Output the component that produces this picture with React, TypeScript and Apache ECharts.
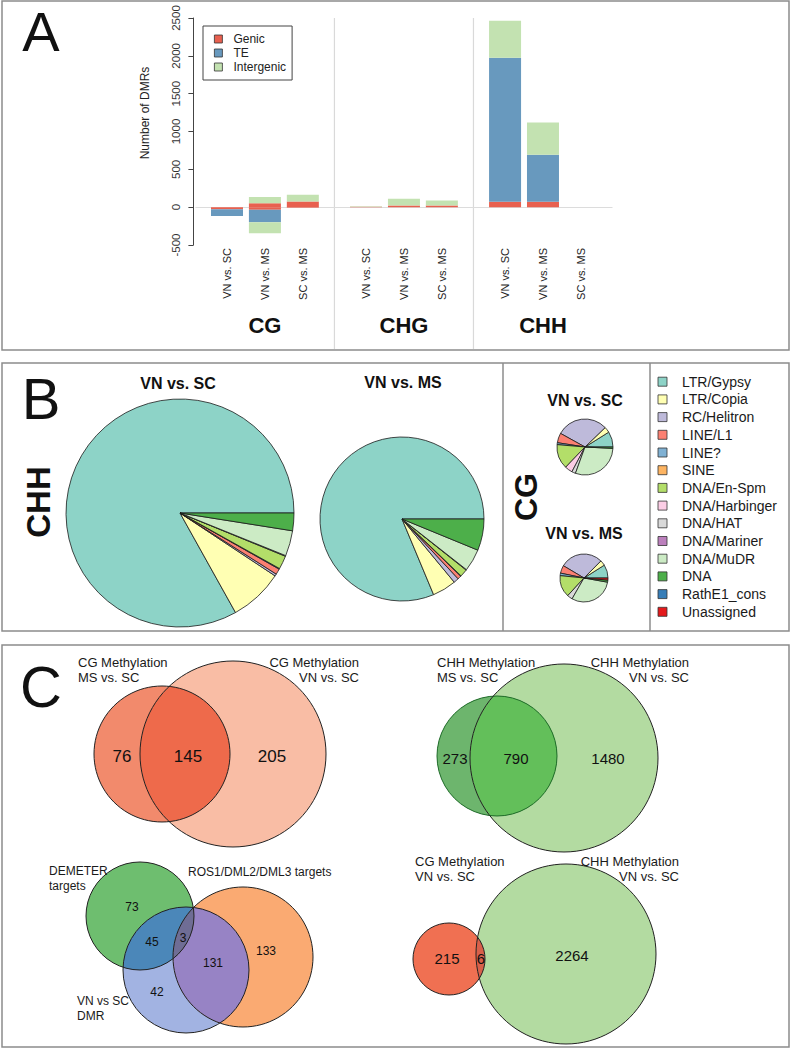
import React, { useEffect, useRef } from 'react';
import * as echarts from 'echarts';

const FONT = '"Liberation Sans", Arial, Helvetica, sans-serif';

// ---------------- Panel A data ----------------
const CONTEXTS = ['CG', 'CHG', 'CHH'];
const COMPARISONS = ['VN vs. SC', 'VN vs. MS', 'SC vs. MS'];
const FEATURES = ['Genic', 'TE', 'Intergenic'];
const FEATURE_COLORS = ['#E8604F', '#6899BE', '#C3E2B1'];
// order: CG (VN vs SC, VN vs MS, SC vs MS), CHG (...), CHH (...)
const GENIC_HYPER = [0, 53, 74, 5, 22, 22, 70, 70, 0];
const TE_HYPER = [0, 0, 0, 0, 0, 0, 1905, 622, 0];
const INTERGENIC_HYPER = [0, 83, 89, 8, 88, 66, 490, 428, 0];
const GENIC_HYPO = [-26, -35, -8, 0, 0, 0, 0, 0, 0];
const TE_HYPO = [-90, -163, 0, 0, 0, 0, 0, 0, 0];
const INTERGENIC_HYPO = [0, -146, 0, 0, 0, 0, 0, 0, 0];
const Y_MIN = -500;
const Y_MAX = 2500;
const Y_STEP = 500;

// ---------------- Panel B data ----------------
const TE_CLASSES = ['LTR/Gypsy', 'LTR/Copia', 'RC/Helitron', 'LINE/L1', 'LINE?', 'SINE', 'DNA/En-Spm', 'DNA/Harbinger', 'DNA/HAT', 'DNA/Mariner', 'DNA/MuDR', 'DNA', 'RathE1_cons', 'Unassigned'];
const TE_COLORS = ['#8DD3C7', '#FFFFB3', '#BEBADA', '#FB8072', '#80B1D3', '#FDB462', '#B3DE69', '#FCCDE5', '#D9D9D9', '#BC80BD', '#CCEBC5', '#4DAF4A', '#377EB8', '#E41A1C'];
const CHH_VN_SC = [83.1, 7.6, 0.3, 0.8, 0.1, 0, 1.9, 0, 0.1, 0, 3.6, 2.5, 0, 0];
const CHH_VN_MS = [81.3, 4.7, 1.0, 0.7, 0.1, 0, 1.5, 0, 0.1, 0, 4.4, 6.2, 0, 0];
const CG_VN_SC = [8.9, 3.3, 29.7, 5.6, 1.1, 0, 14.2, 4.4, 2.2, 0, 29.7, 0.8, 0, 0];
const CG_VN_MS = [9.0, 3.6, 28.9, 5.3, 1.7, 0, 14.7, 0, 3.6, 0, 30.5, 1.4, 0, 1.4];

// ---------------- Panel C data ----------------
const CG_VENN_COUNTS = [76, 145, 205];          // MS only, both, VN only
const CHH_VENN_COUNTS = [273, 790, 1480];       // MS only, both, VN only
const CG_CHH_COUNTS = [215, 6, 2264];           // CG only, both, CHH only
const DEMETER_COUNTS = [73, 45, 3, 131, 133, 42]; // DME only, DME∩DMR, all, DMR∩ROS, ROS only, DMR only

// ---------------- layout ----------------
const GRID_LEFT = 195.4;
const GRID_TOP = 18;
const GRID_W = 417.1;
const GRID_H = 227;
const SLOT_LEAD = 2;
const SLOT_STEP = 3;
const GROUP_SPAN = 11;
const SLOT_COUNT = 33;
const SLOT_W = GRID_W / SLOT_COUNT;
const barSlot = (g: number, m: number) => SLOT_LEAD + g * GROUP_SPAN + m * SLOT_STEP;

const toSlots = (vals: number[]) => {
  const arr: any[] = new Array(SLOT_COUNT).fill('-');
  vals.forEach((v, i) => { arr[barSlot(Math.floor(i / 3), i % 3)] = v; });
  return arr;
};
const slotLabels: string[] = new Array(SLOT_COUNT).fill('');
CONTEXTS.forEach((_, g) => COMPARISONS.forEach((c, m) => { slotLabels[barSlot(g, m)] = c; }));

type Circle = { cx: number; cy: number; r: number; fill: string; stroke: string };

function intersectionPolygon(cs: Circle[], n = 720): number[][] {
  const pts: number[][] = [];
  cs.forEach((c, i) => {
    for (let k = 0; k < n; k++) {
      const a = (k / n) * Math.PI * 2;
      const x = c.cx + c.r * Math.cos(a);
      const y = c.cy + c.r * Math.sin(a);
      const ok = cs.every((o, j) => j === i || (x - o.cx) ** 2 + (y - o.cy) ** 2 <= o.r * o.r + 1e-6);
      if (ok) pts.push([x, y]);
    }
  });
  if (pts.length < 3) return [];
  let mx = 0, my = 0;
  pts.forEach((p) => { mx += p[0]; my += p[1]; });
  mx /= pts.length; my /= pts.length;
  pts.sort((p, q) => Math.atan2(p[1] - my, p[0] - mx) - Math.atan2(q[1] - my, q[0] - mx));
  return pts;
}

type Venn = {
  circles: Circle[];
  overlaps: { sets: number[]; fill: string }[];
  counts: number[];
  countPos: number[][];
  countSize: number;
  labels: { text: string; x: number; y: number; align: string }[];
  labelSize: number;
};

const VENNS: Venn[] = [
  {
    circles: [
      { cx: 162, cy: 754, r: 68, fill: '#F28A6C', stroke: '#222' },
      { cx: 233, cy: 754, r: 93, fill: '#F9BDA5', stroke: '#222' },
    ],
    overlaps: [{ sets: [0, 1], fill: '#EE6A4B' }],
    counts: CG_VENN_COUNTS,
    countPos: [[122, 756], [188, 756], [272, 756]],
    countSize: 17,
    labels: [
      { text: 'CG Methylation\nMS vs. SC', x: 78, y: 670, align: 'left' },
      { text: 'CG Methylation\nVN vs. SC', x: 359, y: 670, align: 'right' },
    ],
    labelSize: 13,
  },
  {
    circles: [
      { cx: 497, cy: 756, r: 60, fill: '#6DB56D', stroke: '#1E6B28' },
      { cx: 564, cy: 758, r: 94, fill: '#B3DBA1', stroke: '#222' },
    ],
    overlaps: [{ sets: [0, 1], fill: '#63BF5A' }],
    counts: CHH_VENN_COUNTS,
    countPos: [[455, 758], [516, 758], [608, 758]],
    countSize: 15,
    labels: [
      { text: 'CHH Methylation\nMS vs. SC', x: 437, y: 670, align: 'left' },
      { text: 'CHH Methylation\nVN vs. SC', x: 689, y: 670, align: 'right' },
    ],
    labelSize: 13,
  },
  {
    circles: [
      { cx: 140, cy: 916, r: 54, fill: '#6EBE6F', stroke: '#222' },
      { cx: 186, cy: 970, r: 63, fill: '#A2B3E2', stroke: '#222' },
      { cx: 243, cy: 957, r: 70, fill: '#FAAA72', stroke: '#222' },
    ],
    overlaps: [
      { sets: [0, 1], fill: '#4B87B9' },
      { sets: [1, 2], fill: '#9783C5' },
      { sets: [0, 2], fill: '#8A8D70' },
      { sets: [0, 1, 2], fill: '#6F6D95' },
    ],
    counts: DEMETER_COUNTS,
    countPos: [[132, 907], [152, 942], [183, 938], [213, 963], [266, 951], [157, 992]],
    countSize: 12,
    labels: [
      { text: 'DEMETER\ntargets', x: 49, y: 878.5, align: 'left' },
      { text: 'ROS1/DML2/DML3 targets', x: 188, y: 872, align: 'left' },
      { text: 'VN vs SC\nDMR', x: 77, y: 1008.5, align: 'left' },
    ],
    labelSize: 12,
  },
  {
    circles: [
      { cx: 449, cy: 959, r: 36, fill: '#F07052', stroke: '#222' },
      { cx: 566, cy: 954, r: 90, fill: '#B3DBA1', stroke: '#222' },
    ],
    overlaps: [{ sets: [0, 1], fill: '#D8604A' }],
    counts: CG_CHH_COUNTS,
    countPos: [[447, 958], [481, 958], [572, 955]],
    countSize: 15,
    labels: [
      { text: 'CG Methylation\nVN vs. SC', x: 415, y: 869, align: 'left' },
      { text: 'CHH Methylation\nVN vs. SC', x: 679, y: 869, align: 'right' },
    ],
    labelSize: 13,
  },
];

function vennGraphics(v: Venn): any[] {
  const out: any[] = [];
  v.circles.forEach((c) => out.push({ type: 'circle', shape: { cx: c.cx, cy: c.cy, r: c.r }, style: { fill: c.fill, stroke: 'none' }, silent: true }));
  v.overlaps.forEach((o) => {
    const pts = intersectionPolygon(o.sets.map((i) => v.circles[i]));
    if (pts.length) out.push({ type: 'polygon', shape: { points: pts }, style: { fill: o.fill, stroke: 'none' }, silent: true });
  });
  v.circles.forEach((c) => out.push({ type: 'circle', shape: { cx: c.cx, cy: c.cy, r: c.r }, style: { fill: 'none', stroke: c.stroke, lineWidth: 1 }, silent: true }));
  v.counts.forEach((n, i) => out.push({
    type: 'text', x: v.countPos[i][0], y: v.countPos[i][1], silent: true,
    style: { text: String(n), fontSize: v.countSize, fontFamily: FONT, fill: '#111', align: 'center', verticalAlign: 'middle' },
  }));
  v.labels.forEach((l) => out.push({
    type: 'text', x: l.x, y: l.y, silent: true,
    style: { text: l.text, fontSize: v.labelSize, fontFamily: FONT, fill: '#1a1a1a', align: l.align, verticalAlign: 'middle', lineHeight: 14.5 },
  }));
  return out;
}

function pieData(vals: number[]) {
  return TE_CLASSES.map((name, i) => ({ name, value: vals[i], itemStyle: { color: TE_COLORS[i] } })).filter((d) => d.value > 0);
}

function pieSeries(vals: number[], center: number[], radius: number) {
  return {
    type: 'pie', center, radius, startAngle: 0, clockwise: false, silent: true,
    avoidLabelOverlap: false, label: { show: false }, labelLine: { show: false },
    itemStyle: { borderColor: '#1a1a1a', borderWidth: 0.8 },
    emphasis: { disabled: true },
    data: pieData(vals),
  };
}

const txt = (text: string, x: number, y: number, size: number, extra: any = {}, rot = 0) => ({
  type: 'text', x, y, rotation: rot, silent: true,
  style: { text, fontSize: size, fontFamily: FONT, fill: '#111', align: 'center', verticalAlign: 'middle', ...extra },
});

export default function App() {
  const ref = useRef<HTMLDivElement>(null);
  useEffect(() => {
    if (!ref.current) return;
    const chart = echarts.init(ref.current, null, { renderer: 'svg', width: 793, height: 1050 });

    const barDefs = [
      { f: 0, vals: GENIC_HYPER }, { f: 1, vals: TE_HYPER }, { f: 2, vals: INTERGENIC_HYPER },
      { f: 0, vals: GENIC_HYPO }, { f: 1, vals: TE_HYPO }, { f: 2, vals: INTERGENIC_HYPO },
    ];
    const bars: any[] = barDefs.map((d, i) => ({
      type: 'bar', name: FEATURES[d.f], stack: 'dmr', barWidth: 32, silent: true,
      itemStyle: { color: FEATURE_COLORS[d.f] },
      data: toSlots(d.vals),
      ...(i === 0 ? {
        markLine: {
          silent: true, symbol: 'none', z: 1, label: { show: false },
          lineStyle: { color: '#dcdcdc', type: 'solid', width: 1 },
          data: [{ yAxis: 0 }],
        },
      } : {}),
    }));

    const g: any[] = [];
    // panel frames
    g.push({ type: 'rect', shape: { x: 2, y: 1, width: 787, height: 349 }, style: { fill: 'none', stroke: '#8c8c8c', lineWidth: 1.5 }, silent: true });
    g.push({ type: 'rect', shape: { x: 2, y: 363, width: 787, height: 268 }, style: { fill: 'none', stroke: '#8c8c8c', lineWidth: 1.5 }, silent: true });
    g.push({ type: 'rect', shape: { x: 2, y: 645, width: 787, height: 402 }, style: { fill: 'none', stroke: '#8c8c8c', lineWidth: 1.5 }, silent: true });
    g.push({ type: 'line', shape: { x1: 503, y1: 363, x2: 503, y2: 631 }, style: { stroke: '#8c8c8c', lineWidth: 1.5 }, silent: true });
    g.push({ type: 'line', shape: { x1: 650, y1: 363, x2: 650, y2: 631 }, style: { stroke: '#8c8c8c', lineWidth: 1.5 }, silent: true });

    // panel letters
    g.push(txt('A', 41, 31.5, 56));
    g.push(txt('B', 41, 398.5, 58));
    g.push(txt('C', 41, 686, 58));

    // Panel A decorations
    [1, 2].forEach((k) => {
      const x = GRID_LEFT + (k * GROUP_SPAN) * SLOT_W;
      g.push({ type: 'line', shape: { x1: x, y1: GRID_TOP, x2: x, y2: 349 }, style: { stroke: '#d9d9d9', lineWidth: 1.2 }, silent: true });
    });
    CONTEXTS.forEach((c, i) => {
      const x = GRID_LEFT + (barSlot(i, 1) + 0.5) * SLOT_W;
      g.push(txt(c, x, 325, 22, { fontWeight: 'bold' }));
    });
    g.push(txt('Number of DMRs', 145, 113, 12, { fill: '#222' }, Math.PI / 2));

    // Panel B texts
    g.push(txt('CHH', 38, 502, 33, { fontWeight: 'bold' }, Math.PI / 2));
    g.push(txt('CG', 526, 497, 32, { fontWeight: 'bold' }, Math.PI / 2));
    g.push(txt('VN vs. SC', 178, 383, 16, { fontWeight: 'bold' }));
    g.push(txt('VN vs. MS', 403, 382, 16, { fontWeight: 'bold' }));
    g.push(txt('VN vs. SC', 585, 400, 16, { fontWeight: 'bold' }));
    g.push(txt('VN vs. MS', 584, 533, 16, { fontWeight: 'bold' }));
    TE_CLASSES.forEach((name, i) => {
      const y = 381.7 + i * 17.7;
      g.push({ type: 'rect', shape: { x: 658, y: y - 4.5, width: 9, height: 9 }, style: { fill: TE_COLORS[i], stroke: '#333', lineWidth: 0.8 }, silent: true });
      g.push(txt(name, 682, y, 14, { align: 'left', fill: '#1a1a1a' }));
    });

    // Panel C
    VENNS.forEach((v) => g.push(...vennGraphics(v)));

    chart.setOption({
      animation: false,
      backgroundColor: '#ffffff',
      textStyle: { fontFamily: FONT },
      grid: [{ left: GRID_LEFT, top: GRID_TOP, width: GRID_W, height: GRID_H, containLabel: false }],
      legend: {
        data: FEATURES, orient: 'vertical', left: 203, top: 26,
        padding: [7, 6, 7, 11], itemGap: 2, itemWidth: 8, itemHeight: 8, icon: 'rect',
        borderColor: '#444', borderWidth: 1, selectedMode: false,
        itemStyle: { borderColor: '#333', borderWidth: 0.8 },
        textStyle: { fontSize: 12, color: '#222', fontFamily: FONT, padding: [0, 0, 0, 6] },
      },
      xAxis: {
        type: 'category', data: slotLabels.map((_, i) => 's' + i),
        axisLine: { show: false }, axisTick: { show: false }, splitLine: { show: false },
        axisLabel: {
          interval: 0, rotate: 90, fontSize: 11, color: '#222', margin: 3, fontFamily: FONT,
          formatter: (_v: string, idx: number) => slotLabels[idx],
        },
      },
      yAxis: {
        type: 'value', min: Y_MIN, max: Y_MAX, interval: Y_STEP, offset: 2,
        axisLine: { show: true, lineStyle: { color: '#444', width: 1 } },
        axisTick: { show: true, length: 5, lineStyle: { color: '#444' } },
        splitLine: { show: false },
        axisLabel: { rotate: 90, fontSize: 11.5, color: '#333', margin: 11, fontFamily: FONT, formatter: (v: number) => String(v) },
      },
      series: [
        ...bars,
        pieSeries(CHH_VN_SC, [180, 513], 114),
        pieSeries(CHH_VN_MS, [402, 519], 82),
        pieSeries(CG_VN_SC, [585, 447], 28),
        pieSeries(CG_VN_MS, [584, 578], 24),
      ],
      graphic: { elements: g },
    });
    return () => chart.dispose();
  }, []);
  return <div ref={ref} style={{ position: 'absolute', left: 0, top: 0, width: 793, height: 1050, background: '#fff' }} />;
}
